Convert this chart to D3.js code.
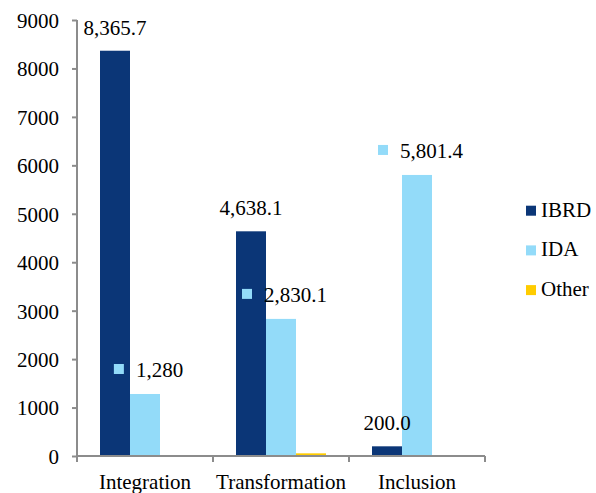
<!DOCTYPE html>
<html>
<head>
<meta charset="utf-8">
<script src="https://cdn.jsdelivr.net/npm/d3@7/dist/d3.min.js"></script>
<style>
  html, body { margin: 0; padding: 0; background: #fff; }
  svg { display: block; }
</style>
</head>
<body>
<svg id="chart" width="596" height="493"></svg>
<script>
// Lending by pillar (US$ millions)
const categories = ["Integration", "Transformation", "Inclusion"];
const seriesNames = ["IBRD", "IDA", "Other"];
const ibrdValues = [8365.7, 4638.1, 200.0];
const idaValues = [1280, 2830.1, 5801.4];
const otherValues = [0, 55, 0];
const ibrdLabels = ["8,365.7", "4,638.1", "200.0"];
const idaLabels = ["1,280", "2,830.1", "5,801.4"];
const yTicks = [0, 1000, 2000, 3000, 4000, 5000, 6000, 7000, 8000, 9000];
const colors = ["#0B3677", "#93DBF9", "#FFCC00"];

const svg = d3.select("#chart");
const axisColor = "#8c8c8c";
const fontFamily = '"Liberation Serif"';
const fontSize = "21px";

function styleText(sel) {
  return sel.style("font-family", fontFamily).style("font-size", fontSize).style("fill", "#000");
}

const x = d3.scaleBand().domain(categories).range([77, 485]).paddingInner(0).paddingOuter(0);
const xs = d3.scaleBand().domain(seriesNames).range([23, 113]);
const y = d3.scaleLinear().domain([0, 9000]).range([456, 20]);
const color = d3.scaleOrdinal().domain(seriesNames).range(colors);

const seriesValues = { IBRD: ibrdValues, IDA: idaValues, Other: otherValues };

// bars
const groups = svg.append("g").selectAll("g")
  .data(categories)
  .join("g")
  .attr("transform", d => `translate(${x(d)},0)`);

groups.selectAll("rect")
  .data((c, i) => seriesNames.map(s => ({ s, v: seriesValues[s][i] })))
  .join("rect")
  .attr("x", d => xs(d.s))
  .attr("width", xs.bandwidth())
  .attr("y", d => y(d.v))
  .attr("height", d => y(0) - y(d.v))
  .attr("fill", d => color(d.s));

// y axis
const yAxis = svg.append("g")
  .attr("transform", "translate(77,0)")
  .call(d3.axisLeft(y).tickValues(yTicks).tickFormat(d3.format("d")).tickSize(5).tickPadding(13));
yAxis.attr("font-family", null).attr("font-size", null);
yAxis.select(".domain").attr("stroke", axisColor).attr("stroke-width", 2).attr("d", `M0,${y(9000)}V${y(0)}`);
yAxis.selectAll(".tick line").attr("stroke", axisColor).attr("stroke-width", 2);
styleText(yAxis.selectAll(".tick text")).attr("dy", "0.35em");

// x axis: line with ticks at category boundaries
const xAxisG = svg.append("g");
xAxisG.append("line")
  .attr("x1", x.range()[0] - 1).attr("x2", x.range()[1])
  .attr("y1", y(0)).attr("y2", y(0))
  .attr("stroke", axisColor).attr("stroke-width", 2);
const bounds = categories.map(c => x(c)).concat([x.range()[1]]);
xAxisG.selectAll("line.tk")
  .data(bounds)
  .join("line")
  .attr("class", "tk")
  .attr("x1", d => d).attr("x2", d => d)
  .attr("y1", y(0)).attr("y2", y(0) + 6)
  .attr("stroke", axisColor).attr("stroke-width", 2);
styleText(xAxisG.selectAll("text")
  .data(categories)
  .join("text")
  .attr("x", d => x(d) + x.bandwidth() / 2)
  .attr("y", 489)
  .attr("text-anchor", "middle"))
  .text(d => d);

// IBRD value labels
styleText(svg.append("g").selectAll("text")
  .data(categories)
  .join("text")
  .attr("x", (c) => x(c) + xs("IBRD") + xs.bandwidth() / 2)
  .attr("y", (c, i) => y(ibrdValues[i]) - 16)
  .attr("text-anchor", "middle"))
  .text((c, i) => ibrdLabels[i]);

// IDA value labels, each with a legend key square
const idaLab = svg.append("g").selectAll("g")
  .data(categories)
  .join("g");
idaLab.each(function (c, i) {
  const g = d3.select(this);
  const t = styleText(g.append("text")).text(idaLabels[i]);
  const tw = t.node().getComputedTextLength();
  const keySize = 10, gap = 12;
  const total = keySize + gap + tw;
  const cx = x(c) + xs("IDA") + xs.bandwidth() / 2 + 3.5;
  const left = cx - total / 2;
  const base = y(idaValues[i]) - 17;
  g.append("rect")
    .attr("x", left).attr("y", base - 13)
    .attr("width", keySize).attr("height", keySize)
    .attr("fill", color("IDA"));
  t.attr("x", left + keySize + gap).attr("y", base);
});

// legend
const legend = svg.append("g").selectAll("g")
  .data(seriesNames)
  .join("g")
  .attr("transform", (d, i) => `translate(526,${216.7 + i * 39.7})`);
legend.append("rect")
  .attr("x", 0).attr("y", -11)
  .attr("width", 10).attr("height", 10)
  .attr("fill", d => color(d));
styleText(legend.append("text")
  .attr("x", 15).attr("y", 0))
  .text(d => d);
</script>
</body>
</html>
